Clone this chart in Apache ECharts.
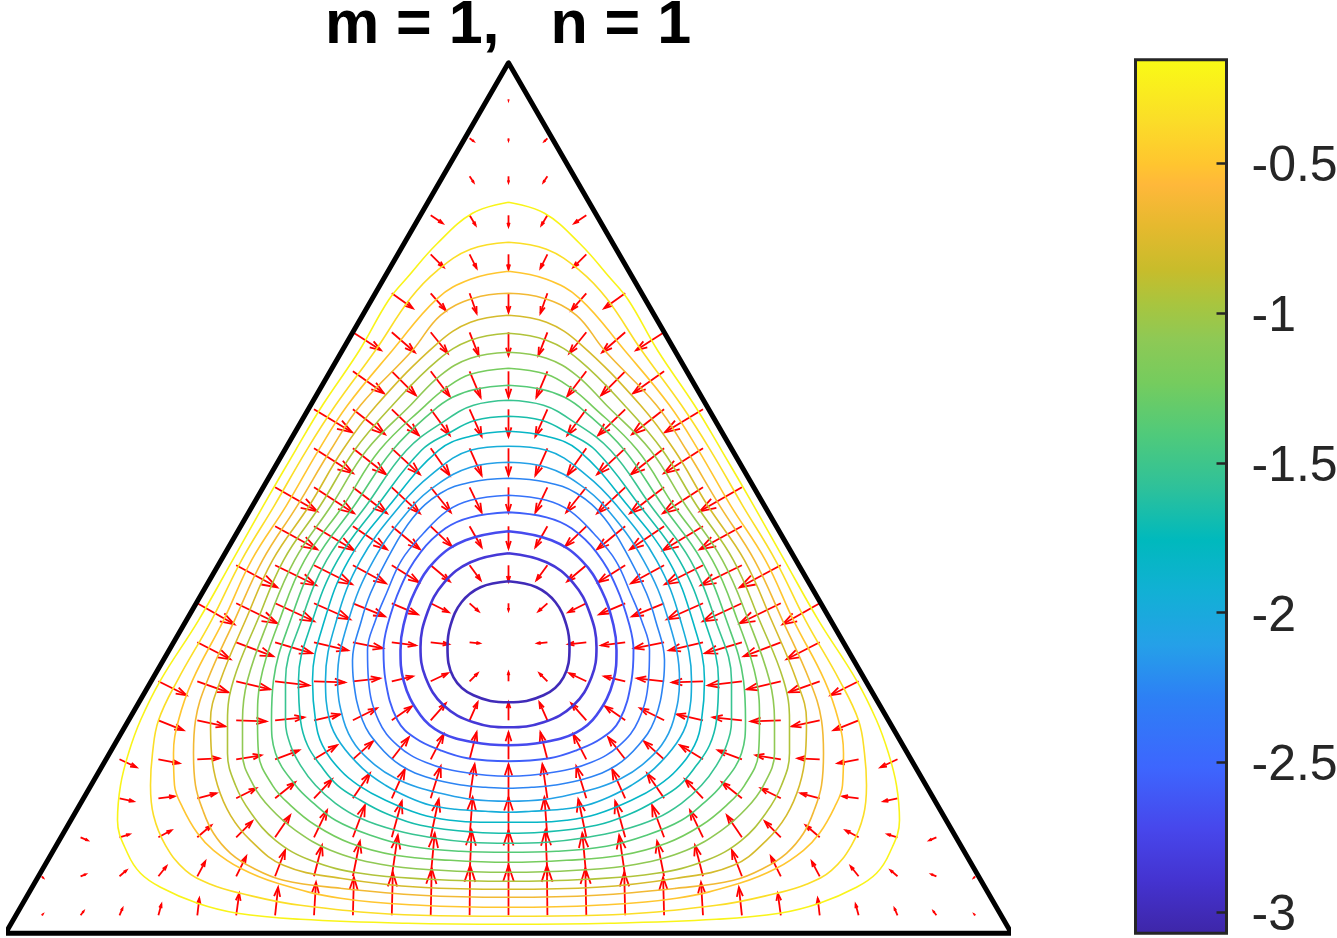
<!DOCTYPE html>
<html>
<head>
<meta charset="utf-8">
<title>m = 1, n = 1</title>
<style>
html, body { margin: 0; padding: 0; background: #fff; }
#chart { width: 1337px; height: 938px; }
</style>
<script src="https://cdn.jsdelivr.net/npm/echarts@6/dist/echarts.min.js"></script>
</head>
<body>
<div id="chart"></div>
<script>
var titleText = 'm = 1,   n = 1';

var triangleX = [-503, 503, 0, -503, 503];
var triangleY = [0, 0, 870.5, 0, 0];

var colorbarMin = -3.07;
var colorbarMax = -0.154;
var colorbarTicks = [-3, -2.5, -2, -1.5, -1, -0.5];

// parula: [position, colour]
var colorStops = [
	[0, '#3e26a8'], [0.06, '#4433d0'], [0.12, '#4747ec'], [0.19, '#3d66fe'], [0.27, '#2d80f5'],
	[0.33, '#25a0e8'], [0.39, '#12b0d5'], [0.45, '#00b9bd'], [0.51, '#2ec19a'], [0.57, '#4fca7b'],
	[0.63, '#75cc5e'], [0.68, '#8ec955'], [0.72, '#a8c53f'], [0.76, '#c8bc2b'], [0.81, '#e6b92e'],
	[0.857, '#ffb83a'], [0.88, '#ffc52f'], [0.93, '#fbdd28'], [1, '#f9fb15']
];

var contourLevels = [-0.2, -0.35, -0.5, -0.64, -0.79, -0.94, -1.08, -1.23, -1.38, -1.53,
	-1.67, -1.82, -1.97, -2.11, -2.26, -2.41, -2.56, -2.7, -2.85, -3];

// one closed outline per level, x,y,x,y... in triangle units (origin at middle of the base)
var contourPaths = [
	[0,731,-36,720,-71,690,-101,656,-120,633,-149,583,-186,528,-213,483,-245,428,-276,373,-310,313,-348,253,-368,213,-380,180,-388,148,-391,113,-381,80,-368,60,-348,46,-311,30,-271,20,-208,14,-101,10,0,9,101,10,208,14,271,20,311,30,348,46,368,60,381,80,391,113,388,148,380,180,368,213,348,253,310,313,276,373,245,428,213,483,186,528,149,583,120,633,101,656,71,690,36,720,0,731],
	[0,691,-38,684,-71,663,-98,635,-133,583,-173,528,-202,483,-234,428,-267,373,-297,313,-331,253,-350,213,-356,180,-358,148,-355,118,-343,88,-323,63,-298,49,-268,40,-208,28,-88,18,0,17,88,18,208,28,268,40,298,49,323,63,343,88,355,118,358,148,356,180,350,213,331,253,297,313,267,373,234,428,202,483,173,528,133,583,98,635,71,663,38,684,0,691],
	[0,662,-38,654,-71,635,-116,583,-161,528,-190,483,-222,428,-257,373,-285,313,-316,253,-330,213,-335,180,-334,148,-326,126,-311,100,-295,83,-268,65,-231,50,-168,35,-88,28,0,26,88,28,168,35,231,50,268,65,295,83,311,100,326,126,334,148,335,180,330,213,316,253,285,313,257,373,222,428,190,483,161,528,116,583,71,635,38,654,0,662],
	[0,640,-35,635,-68,618,-96,583,-148,528,-178,483,-211,428,-246,373,-274,313,-301,253,-313,213,-315,180,-313,148,-306,124,-295,100,-278,80,-255,65,-225,53,-168,45,-88,38,0,36,88,38,168,45,225,53,255,65,278,80,295,100,306,124,313,148,315,180,313,213,301,253,274,313,246,373,211,428,178,483,148,528,96,583,68,618,35,635,0,640],
	[0,618,-38,611,-71,590,-132,528,-166,483,-199,428,-236,373,-263,313,-288,253,-298,213,-297,180,-291,148,-278,118,-258,93,-225,68,-168,55,-88,46,0,44,88,46,168,55,225,68,258,93,278,118,291,148,297,180,298,213,288,253,263,313,236,373,199,428,166,483,132,528,71,590,38,611,0,618],
	[0,600,-38,593,-71,573,-116,528,-154,483,-188,428,-225,373,-251,313,-275,253,-281,213,-281,180,-273,148,-258,121,-233,93,-198,73,-148,60,-78,54,0,52,78,54,148,60,198,73,233,93,258,121,273,148,281,180,281,213,275,253,251,313,225,373,188,428,154,483,116,528,71,573,38,593,0,600],
	[0,581,-38,575,-68,558,-98,528,-142,483,-177,428,-214,373,-240,313,-261,253,-266,213,-266,180,-255,148,-238,125,-213,103,-178,83,-128,69,-68,63,0,61,68,63,128,69,178,83,213,103,238,125,255,148,266,180,266,213,261,253,240,313,214,373,177,428,142,483,98,528,68,558,38,575,0,581],
	[0,565,-38,559,-63,545,-83,528,-129,483,-165,428,-204,373,-229,313,-248,253,-251,213,-250,180,-236,148,-218,128,-193,108,-158,90,-113,78,-58,73,0,71,58,73,113,78,158,90,193,108,218,128,236,148,250,180,251,213,248,253,229,313,204,373,165,428,129,483,83,528,63,545,38,559,0,565],
	[0,548,-33,544,-56,536,-76,522,-116,483,-154,428,-193,373,-218,313,-235,253,-237,213,-233,180,-213,148,-196,131,-173,113,-138,98,-98,87,-48,82,0,81,48,82,98,87,138,98,173,113,196,131,213,148,233,180,237,213,235,253,218,313,193,373,154,428,116,483,76,522,56,536,33,544,0,548],
	[0,533,-35,528,-63,513,-102,483,-142,428,-182,373,-207,313,-223,253,-223,213,-218,188,-208,168,-193,148,-173,130,-148,115,-113,103,-73,95,-38,91,0,90,38,91,73,95,113,103,148,115,173,130,193,148,208,168,218,188,223,213,223,253,207,313,182,373,142,428,102,483,63,513,35,528,0,533],
	[0,517,-33,513,-60,500,-87,483,-131,428,-171,373,-196,313,-210,253,-208,213,-201,188,-188,168,-171,148,-148,133,-123,120,-88,108,-33,101,0,100,33,101,88,108,123,120,148,133,171,148,188,168,201,188,208,213,210,253,196,313,171,373,131,428,87,483,60,500,33,513,0,517],
	[0,502,-38,497,-70,483,-119,428,-160,373,-184,313,-196,253,-193,213,-186,188,-168,163,-150,148,-123,133,-88,119,-58,113,-28,111,0,111,28,111,58,113,88,119,123,133,150,148,168,163,186,188,193,213,196,253,184,313,160,373,119,428,70,483,38,497,0,502],
	[0,487,-38,483,-78,458,-108,428,-148,373,-172,313,-183,253,-179,213,-168,190,-146,165,-123,148,-100,136,-78,128,-53,124,-23,122,0,121,23,122,53,124,78,128,100,136,123,148,146,165,168,190,179,213,183,253,172,313,148,373,108,428,78,458,38,483,0,487],
	[0,471,-38,466,-71,449,-97,426,-135,373,-160,313,-171,253,-165,213,-153,188,-133,168,-113,155,-91,146,-68,140,-38,134,0,132,38,134,68,140,91,146,113,155,133,168,153,188,165,213,171,253,160,313,135,373,97,426,71,449,38,466,0,471],
	[0,455,-38,451,-68,440,-96,415,-122,373,-138,340,-147,313,-156,273,-155,253,-146,213,-130,188,-108,168,-78,155,-45,148,-23,146,0,145,23,146,45,148,78,155,108,168,130,188,146,213,155,253,156,273,147,313,138,340,122,373,96,415,68,440,38,451,0,455],
	[0,438,-38,433,-62,422,-85,400,-107,373,-122,340,-133,313,-141,283,-140,253,-130,213,-111,188,-83,171,-45,161,0,157,45,161,83,171,111,188,130,213,140,253,141,283,133,313,122,340,107,373,85,400,62,422,38,433,0,438],
	[0,421,-38,416,-63,405,-88,381,-108,346,-121,308,-125,283,-123,253,-111,213,-93,195,-68,183,-41,175,0,172,41,175,68,183,93,195,111,213,123,253,125,283,121,308,108,346,88,381,63,405,38,416,0,421],
	[0,402,-43,393,-73,373,-93,343,-105,308,-108,283,-105,253,-88,218,-68,201,-35,191,0,188,35,191,68,201,88,218,105,253,108,283,105,308,93,343,73,373,43,393,0,402],
	[0,380,-38,371,-65,350,-81,321,-88,286,-83,256,-65,228,-35,211,0,206,35,211,65,228,83,256,88,286,81,321,65,350,38,371,0,380],
	[0,352,-28,346,-47,331,-58,308,-61,286,-55,256,-35,238,0,231,35,238,55,256,61,286,58,308,47,331,28,346,0,352]
];

// quiver grid: tail columns and rows, then per row the first column and the u, v of each arrow
var arrowColX = [-466.8,-427.9,-389,-350.1,-311.2,-272.3,-233.4,-194.5,-155.6,-116.7,-77.8,-38.9,0,
	38.9,77.8,116.7,155.6,194.5,233.4,272.3,311.2,350.1,389,427.9,466.8];
var arrowRowY = [18,57,96,135,174,213,252,291,330,368,407,446,485,524,562,601,640,679,718,757,795,834];
var arrowFirstCol = [0,0,1,2,2,3,3,4,4,5,6,6,7,7,8,8,9,10,10,11,11,12];
var arrowU = [
	[1,3,3,3,2,3,3,2,1,1,1,0.5,0,-0.5,-1,-1,-1,-2,-3,-3,-2,-3,-3,-3,-1],
	[1.5,5,7,8,8,10,10,8,7,6,4,2,0,-2,-4,-6,-7,-8,-10,-10,-8,-8,-7,-5,-1.5],
	[7,10,13,14,16,15,13,12,10,8,3,0,-3,-8,-10,-12,-13,-15,-16,-14,-13,-10,-7],
	[14,16,19,20,20,18,17,13,10,5,0,-5,-10,-13,-17,-18,-20,-20,-19,-16,-14],
	[17,21,22,25,24,23,20,17,13,7,0,-7,-13,-17,-20,-23,-24,-25,-22,-21,-17],
	[25,28,30,29,26,24,20,15,8,0,-8,-15,-20,-24,-26,-29,-30,-28,-25],
	[28,31,34,34,31,27,21,17,8,0,-8,-17,-21,-27,-31,-34,-34,-31,-28],
	[33,37,37,34,30,24,18,10,0,-10,-18,-24,-30,-34,-37,-37,-33],
	[37,41,39,36,32,26,18,9,0,-9,-18,-26,-32,-36,-39,-41,-37],
	[41,41,38,33,27,19,11,0,-11,-19,-27,-33,-38,-41,-41],
	[42,40,34,28,21,12,0,-12,-21,-28,-34,-40,-42],
	[42,40,34,28,20,12,0,-12,-20,-28,-34,-40,-42],
	[39,33,28,19,12,0,-12,-19,-28,-33,-39],
	[38,32,27,19,12,0,-12,-19,-27,-32,-38],
	[31,24,19,11,0,-11,-19,-24,-31],
	[28,23,17,9,0,-9,-17,-23,-28],
	[21,15,7,0,-7,-15,-21],
	[13,7,0,-7,-13],
	[12,6,0,-6,-12],
	[4,0,-4],
	[4,0,-3],
	[0]
];
var arrowV = [
	[1,4,7,11,17,22,28,33,38,43,47,50,50,50,47,43,38,33,28,22,17,11,7,4,1],
	[-1.5,2,6,10,15,20,26,31,35,41,43,46,46,46,43,41,35,31,26,20,15,10,6,2,-1.5],
	[-3,3,7,12,16,22,27,32,36,38,40,40,40,38,36,32,27,22,16,12,7,3,-3],
	[-3,2,5,10,16,19,25,29,32,34,34,34,32,29,25,19,16,10,5,2,-3],
	[-8,-4,1,4,9,14,18,22,25,27,27,27,25,22,18,14,9,4,1,-4,-8],
	[-10,-6,-1,3,6,12,14,17,18,18,18,17,14,12,6,3,-1,-6,-10],
	[-14,-11,-8,-4,-1,3,5,8,8,9,8,8,5,3,-1,-4,-8,-11,-14],
	[-17,-14,-11,-8,-6,-3,-2,-1,0,-1,-2,-3,-6,-8,-11,-14,-17],
	[-21,-20,-18,-16,-13,-11,-9,-8,-7,-8,-9,-11,-13,-16,-18,-20,-21],
	[-22,-20,-19,-18,-17,-16,-15,-16,-15,-16,-17,-18,-19,-20,-22],
	[-23,-24,-23,-23,-20,-21,-22,-21,-20,-23,-23,-24,-23],
	[-24,-26,-26,-26,-25,-25,-25,-25,-25,-26,-26,-26,-24],
	[-25,-26,-26,-27,-27,-27,-27,-27,-26,-26,-25],
	[-23,-25,-26,-26,-27,-27,-27,-26,-26,-25,-23],
	[-22,-24,-25,-26,-26,-26,-25,-24,-22],
	[-18,-20,-21,-23,-23,-23,-21,-20,-18],
	[-15,-17,-20,-19,-20,-17,-15],
	[-13,-14,-15,-14,-13],
	[-8,-10,-11,-10,-8],
	[-6,-6,-6],
	[-3,-2,-3],
	[-1]
];

function colorAt(level) {
	var t = (level - colorbarMin) / (colorbarMax - colorbarMin);
	for (var i = 1; i < colorStops.length; i++) {
		if (t <= colorStops[i][0]) {
			var f = (t - colorStops[i - 1][0]) / (colorStops[i][0] - colorStops[i - 1][0]);
			return echarts.color.lerp(f, [colorStops[i - 1][1], colorStops[i][1]]);
		}
	}
	return colorStops[colorStops.length - 1][1];
}

function toPairs(flat) {
	var pairs = [];
	for (var i = 0; i < flat.length; i += 2) {
		pairs.push([flat[i], flat[i + 1]]);
	}
	return pairs;
}

function renderArrow(params, api) {
	var x = api.value(0), y = api.value(1), u = api.value(2), v = api.value(3);
	var alpha = 0.33, beta = 0.33;
	var style = { fill: null, stroke: '#ff0000', lineWidth: 1.8 };
	return {
		type: 'group',
		children: [{
			type: 'polyline',
			shape: { points: [api.coord([x, y]), api.coord([x + u, y + v])] },
			style: style
		}, {
			type: 'polyline',
			shape: { points: [
				api.coord([x + u - alpha * (u + beta * v), y + v - alpha * (v - beta * u)]),
				api.coord([x + u, y + v]),
				api.coord([x + u - alpha * (u - beta * v), y + v - alpha * (v + beta * u)])
			] },
			style: style
		}]
	};
}

function renderColorbar(params, api) {
	var a = api.coord([0, colorbarMax]), b = api.coord([1, colorbarMin]);
	var stops = colorStops.map(function(s) {
		return { offset: s[0], color: s[1] };
	});
	return {
		type: 'rect',
		shape: { x: a[0], y: a[1], width: b[0] - a[0], height: b[1] - a[1] },
		style: { fill: new echarts.graphic.LinearGradient(0, 1, 0, 0, stops) }
	};
}

function renderFrame(params, api) {
	var a = api.coord([0, colorbarMax]), b = api.coord([1, colorbarMin]);
	return {
		type: 'rect',
		shape: { x: a[0], y: a[1], width: b[0] - a[0], height: b[1] - a[1] },
		style: { fill: null, stroke: '#262626', lineWidth: 3 }
	};
}

var chart = echarts.init(document.getElementById('chart'));

var series = [];

contourPaths.forEach(function(path, i) {
	series.push({
		type: 'line',
		data: toPairs(path),
		smooth: 0.4,
		showSymbol: false,
		symbol: 'none',
		clip: false,
		silent: true,
		lineStyle: { color: colorAt(contourLevels[i]), width: i >= 17 ? 2.6 : (i == 16 ? 1.9 : 1.6) }
	});
});

var arrowData = [];
arrowRowY.forEach(function(y, r) {
	arrowU[r].forEach(function(u, i) {
		arrowData.push([arrowColX[arrowFirstCol[r] + i], y, u, arrowV[r][i]]);
	});
});
series.push({
	type: 'custom',
	data: arrowData,
	encode: { x: 0, y: 1 },
	renderItem: renderArrow,
	clip: false,
	silent: true
});

series.push({
	type: 'line',
	data: triangleX.map(function(x, i) { return [x, triangleY[i]]; }),
	showSymbol: false,
	symbol: 'none',
	clip: false,
	silent: true,
	z: 5,
	lineStyle: { color: '#000', width: 5, join: 'round', cap: 'round' }
});

series.push({
	type: 'custom',
	xAxisIndex: 1,
	yAxisIndex: 1,
	data: [[0, colorbarMin]],
	renderItem: renderColorbar,
	silent: true
});
series.push({
	type: 'custom',
	xAxisIndex: 1,
	yAxisIndex: 1,
	data: [[0, colorbarMin]],
	renderItem: renderFrame,
	clip: false,
	silent: true,
	z: 6
});

var option = {
	animation: false,
	backgroundColor: '#fff',
	title: {
		text: titleText,
		left: 503,
		top: -9,
		textAlign: 'center',
		textStyle: {
			fontFamily: 'Liberation Sans',
			fontWeight: 'bold',
			fontSize: 61,
			color: '#000'
		}
	},
	grid: [
		{ left: 8.5, top: 33.3, width: 1000, height: 900, outerBoundsMode: 'none' },
		{ left: 1135.5, top: 59.7, width: 91, height: 873.6, outerBoundsMode: 'none' }
	],
	xAxis: [
		{ type: 'value', gridIndex: 0, min: -500, max: 500, show: false },
		{ type: 'value', gridIndex: 1, min: 0, max: 1, show: false }
	],
	yAxis: [
		{ type: 'value', gridIndex: 0, min: 0, max: 900, show: false },
		{
			type: 'value',
			gridIndex: 1,
			position: 'right',
			min: colorbarMin,
			max: colorbarMax,
			z: 10,
			axisLine: { show: false, onZero: false },
			splitLine: { show: false },
			axisTick: {
				inside: true,
				length: 10,
				customValues: colorbarTicks,
				lineStyle: { color: '#262626', width: 2.5 }
			},
			axisLabel: {
				margin: 25,
				customValues: colorbarTicks,
				formatter: function(value) {
					return '{v|' + value + '}';
				},
				rich: {
					v: {
						fontFamily: 'Liberation Sans',
						fontSize: 50,
						color: '#262626',
						padding: [8, 0, 0, 0]
					}
				}
			}
		}
	],
	series: series
};

chart.setOption(option);
</script>
</body>
</html>
